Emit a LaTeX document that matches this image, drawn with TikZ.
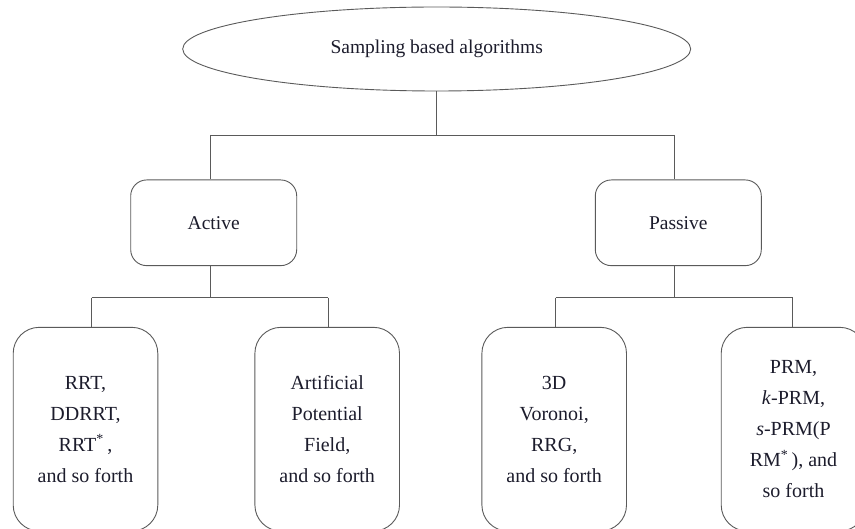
\documentclass[tikz,border=0pt]{standalone}
\usepackage{fontspec}
\setmainfont{Liberation Serif}
\usetikzlibrary{shapes.geometric}
\definecolor{inkline}{HTML}{5A5A5A}
\definecolor{inktext}{HTML}{1C1C2C}
\tikzset{
  conn/.style={draw=inkline, line width=0.9pt},
  rootnode/.style={ellipse, draw=inkline, line width=0.9pt, inner sep=0pt,
    minimum width=508pt, minimum height=84pt, text=inktext,
    font=\fontsize{19.5}{24}\selectfont},
  midbox/.style={rectangle, rounded corners=16pt, draw=inkline, line width=0.9pt,
    inner sep=0pt, minimum width=166pt, minimum height=85.7pt, text=inktext,
    font=\fontsize{19.5}{24}\selectfont},
  leafbox/.style={rectangle, rounded corners=26pt, draw=inkline, line width=0.9pt,
    inner sep=0pt, minimum width=144.6pt, minimum height=203.7pt, text=inktext,
    align=center, font=\fontsize{20}{31}\selectfont}
}
\begin{document}
\begin{tikzpicture}[x=1pt, y=-1pt]
  \useasboundingbox (0,0) rectangle (855,529);

  % root and the two families
  \node[rootnode] (root) at (436.7,49) {Sampling based algorithms};
  \node[midbox] (act) at (213.7,222.8) {Active};
  \node[midbox] (pas) at (678.3,222.8) {Passive};

  % leaves
  \node[leafbox] (rrt) at (85.5,429.2) {RRT,\\DDRRT,\\RRT\textsuperscript{*}\,,\\and so forth};
  \node[leafbox] (apf) at (327.2,429.2) {Artificial\\Potential\\Field,\\and so forth};
  \node[leafbox] (vor) at (554.2,429.2) {3D\\Voronoi,\\RRG,\\and so forth};
  \node[leafbox] (prm) at (793.5,429.2) {PRM,\\\textit{k}-PRM,\\\textit{s}-PRM(P\\RM\textsuperscript{*}\,), and\\so forth};

  % bus coordinates
  \coordinate (topbusL) at (210,135);
  \coordinate (topbusR) at (674,135);
  \coordinate (actbusL) at (91.7,297.7);
  \coordinate (actbusR) at (328.3,297.7);
  \coordinate (pasbusL) at (555.7,297.7);
  \coordinate (pasbusR) at (792.7,297.7);

  % root to families
  \draw[conn] (root.south) -- (root.south |- topbusL);
  \draw[conn] (topbusL) -- (topbusR);
  \draw[conn] (topbusL) -- (topbusL |- act.north);
  \draw[conn] (topbusR) -- (topbusR |- pas.north);

  % Active to its leaves
  \draw[conn] (act.south -| topbusL) -- (topbusL |- actbusL);
  \draw[conn] (actbusL) -- (actbusR);
  \draw[conn] (actbusL) -- (actbusL |- rrt.north);
  \draw[conn] (actbusR) -- (actbusR |- apf.north);

  % Passive to its leaves
  \draw[conn] (pas.south -| topbusR) -- (topbusR |- pasbusL);
  \draw[conn] (pasbusL) -- (pasbusR);
  \draw[conn] (pasbusL) -- (pasbusL |- vor.north);
  \draw[conn] (pasbusR) -- (pasbusR |- prm.north);
\end{tikzpicture}
\end{document}
